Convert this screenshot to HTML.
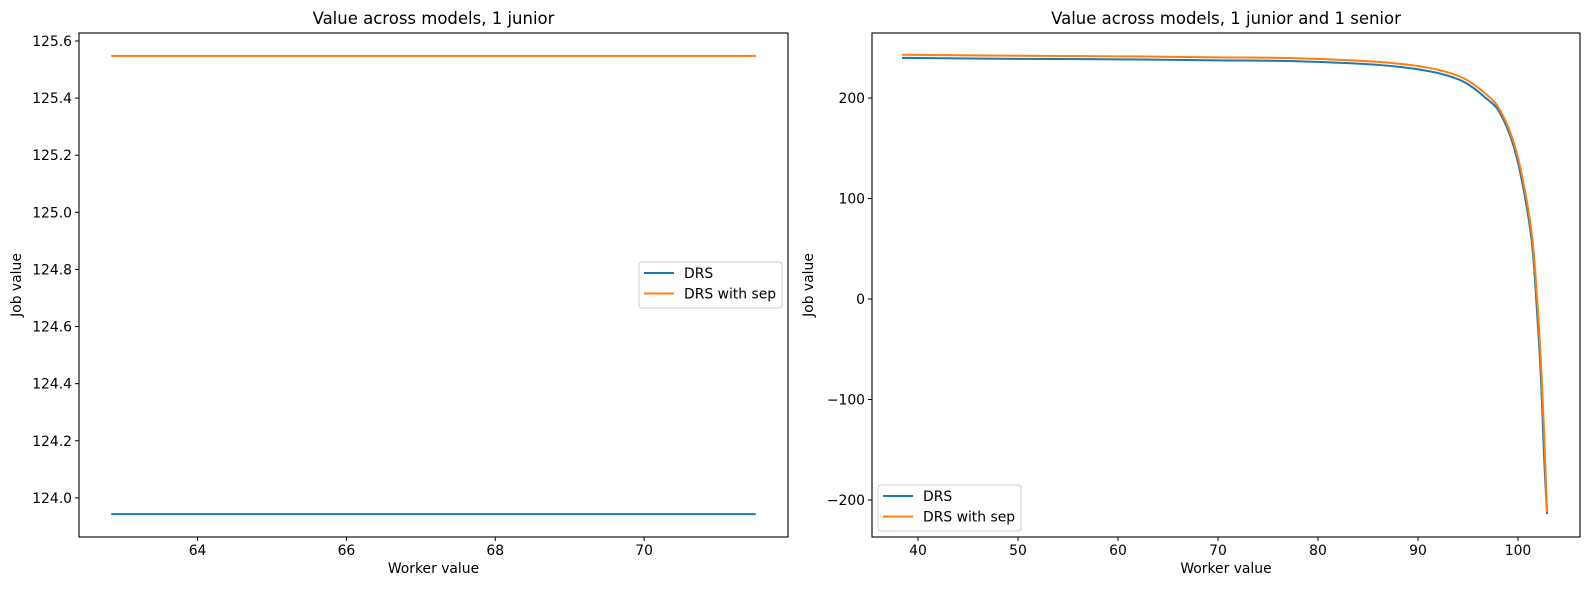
<!DOCTYPE html>
<html><head><meta charset="utf-8"><style>
html,body{margin:0;padding:0;background:#fff;}
svg{display:block;font-family:"DejaVu Sans","Liberation Sans",sans-serif;}
</style></head><body>
<svg id="fig" width="1589" height="590" xmlns="http://www.w3.org/2000/svg"></svg>
<script>
// Left chart data
const leftX = [62.84, 71.5];
const leftDRS = [123.943, 123.943];
const leftSep = [125.548, 125.548];
const leftXTicks = [64, 66, 68, 70];
const leftYTicks = [124.0, 124.2, 124.4, 124.6, 124.8, 125.0, 125.2, 125.4, 125.6];
// Right chart data
const rightX = [38.4, 50, 60, 70, 78.2, 86.2, 91.2, 94.5, 96.9, 98.2, 99.5, 100.5, 101.4, 101.9, 102.3, 102.6, 102.9];
const rightSep = [243, 242, 241.5, 240.5, 239.5, 235.8, 229.8, 219.9, 203, 188, 158, 118, 63, 2, -64, -130, -212];
const rightDRS = [240, 239, 238.5, 237.5, 236.5, 232.8, 226.5, 216.5, 199, 185, 154, 112, 55, -12, -80, -155, -214];
const rightXTicks = [40, 50, 60, 70, 80, 90, 100];
const rightYTicks = [-200, -100, 0, 100, 200];

const NS = "http://www.w3.org/2000/svg";
const svg = document.getElementById('fig');
function mk(tag, attrs, parent){const e=document.createElementNS(NS,tag);for(const k in attrs)e.setAttribute(k,attrs[k]);(parent||svg).appendChild(e);return e;}
function fmt(v,d){const s=Math.abs(v).toFixed(d);return (v<0?'\u2212':'')+s;}
function smoothPath(P){
  let d='M'+P[0][0].toFixed(2)+','+P[0][1].toFixed(2);
  for(let i=0;i<P.length-1;i++){
    const p0=P[Math.max(i-1,0)],p1=P[i],p2=P[i+1],p3=P[Math.min(i+2,P.length-1)];
    const c1x=p1[0]+(p2[0]-p0[0])/6,c1y=p1[1]+(p2[1]-p0[1])/6;
    const c2x=p2[0]-(p3[0]-p1[0])/6,c2y=p2[1]-(p3[1]-p1[1])/6;
    d+=' C'+c1x.toFixed(2)+','+c1y.toFixed(2)+' '+c2x.toFixed(2)+','+c2y.toFixed(2)+' '+p2[0].toFixed(2)+','+p2[1].toFixed(2);
  }
  return d;
}

function panel(o){
  const g=mk('g',{});
  
  
  const sx=v=>o.L+(v-o.xmin)/(o.xmax-o.xmin)*(o.R-o.L);
  const sy=v=>o.B-(v-o.ymin)/(o.ymax-o.ymin)*(o.B-o.T);
  o.xt.forEach(t=>{
    const x=sx(t);
    const l=mk('line',{x1:x,x2:x,y1:o.B,y2:o.B+4,stroke:'#000','stroke-width':1},g);
    
    
    const tx=mk('text',{x:x,y:o.B+18,'font-size':'13.9','text-anchor':'middle'},g);
    tx.textContent=fmt(t,0);
    
    
  });
  o.yt.forEach(t=>{
    const y=sy(t);
    const l=mk('line',{x1:o.L-4,x2:o.L,y1:y,y2:y,stroke:'#000','stroke-width':1},g);
    
    
    const tx=mk('text',{x:o.L-7,y:y+5,'font-size':'13.9','text-anchor':'end'},g);
    tx.textContent=fmt(t,o.yd);
    
    
  });
  const ser=[[o.y1,'#1f77b4','series-drs'],[o.y2,'#ff7f0e','series-drs-with-sep']];
  ser.forEach(s=>{
    const P=o.x.map((v,i)=>[sx(v),sy(s[0][i])]);
    const p=mk('path',{d:smoothPath(P),fill:'none',stroke:s[1],'stroke-width':2,'stroke-linejoin':'round'},g);
    
    
  });
  const fr=mk('rect',{x:o.L,y:o.T,width:o.R-o.L,height:o.B-o.T,fill:'none',stroke:'#000','stroke-width':1.1},g);
  
  
  const ti=mk('text',{x:(o.L+o.R)/2,y:o.T-9,'font-size':'16.5','text-anchor':'middle'},g);
  ti.textContent=o.title;
  
  
  const xl=mk('text',{x:(o.L+o.R)/2,y:o.B+36,'font-size':'13.9','text-anchor':'middle'},g);
  xl.textContent='Worker value';
  
  
  const yl=mk('text',{x:0,y:0,'font-size':'13.9','text-anchor':'middle',transform:`translate(${o.ylx},${(o.T+o.B)/2}) rotate(-90)`},g);
  yl.textContent='Job value';
  
  
  const lg=mk('g',{},g);
  
  
  mk('rect',{x:o.lx,y:o.ly,width:143,height:46,rx:3,fill:'#fff','fill-opacity':0.8,stroke:'#ccc'},lg);
  [['DRS','#1f77b4'],['DRS with sep','#ff7f0e']].forEach((e,i)=>{
    const yy=o.ly+11+i*20.5;
    const le=mk('g',{},lg);
    
    
    mk('line',{x1:o.lx+5,x2:o.lx+35,y1:yy,y2:yy,stroke:e[1],'stroke-width':2},le);
    const t=mk('text',{x:o.lx+45,y:yy+5,'font-size':'13.9'},le);
    t.textContent=e[0];
  });
}
panel({name:'left-chart',L:79,R:788,T:33,B:537,xmin:62.407,xmax:71.933,ymin:123.863,ymax:125.628,
  x:leftX,y1:leftDRS,y2:leftSep,xt:leftXTicks,yt:leftYTicks,yd:1,title:'Value across models, 1 junior',ylx:21,lx:639,ly:262});
panel({name:'right-chart',L:872,R:1580,T:33,B:537,xmin:35.4,xmax:106.2,ymin:-236.8,ymax:264.7,
  x:rightX,y1:rightDRS,y2:rightSep,xt:rightXTicks,yt:rightYTicks,yd:0,title:'Value across models, 1 junior and 1 senior',ylx:813,lx:878,ly:485});
</script>
</body></html>
